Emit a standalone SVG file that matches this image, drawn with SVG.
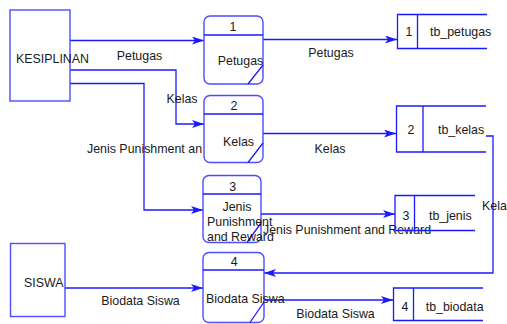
<svg xmlns="http://www.w3.org/2000/svg" width="507" height="324" viewBox="0 0 507 324">
<defs>
<style>
text{font-family:"Liberation Sans",Arial,sans-serif;font-size:12.4px;fill:#1a1a1a}
.c{text-anchor:middle}
.ln{fill:none;stroke:#1a1aff;stroke-width:1.3}
.bx{fill:#fff;stroke:#4d4dff;stroke-width:1.4}
.ds{fill:none;stroke:#1a1aff;stroke-width:1.3}
</style>
<marker id="ah" viewBox="0 0 12 8" refX="12" refY="4" markerWidth="12" markerHeight="8" orient="auto" markerUnits="userSpaceOnUse">
<path d="M0,0 L12,4 L0,8 L3,4 Z" fill="#1a1aff"/>
</marker>
</defs>
<rect width="507" height="324" fill="#fff"/>
<g id="connectors">
<path class="ln" d="M70,40.5 H204" marker-end="url(#ah)"/>
<path class="ln" d="M70,70 H176 V124 H204" marker-end="url(#ah)"/>
<path class="ln" d="M70,83.5 H144 V210 H203" marker-end="url(#ah)"/>
<path class="ln" d="M65,288 H203" marker-end="url(#ah)"/>
<path class="ln" d="M263,39.5 H397" marker-end="url(#ah)"/>
<path class="ln" d="M263,133.5 H396" marker-end="url(#ah)"/>
<path class="ln" d="M261,214 H395" marker-end="url(#ah)"/>
<path class="ln" d="M264,300 H393" marker-end="url(#ah)"/>
<path class="ln" d="M486,136 H493 V273 H264" marker-end="url(#ah)"/>
<text x="139.5" y="60" class="c">Petugas</text>
<text x="182" y="103" class="c">Kelas</text>
<text x="87" y="153">Jenis Punishment an</text>
<text x="140.5" y="305" class="c">Biodata Siswa</text>
<text x="331" y="57" class="c">Petugas</text>
<text x="330" y="153" class="c">Kelas</text>
<text x="263" y="234">Jenis Punishment and Reward</text>
<text x="335.5" y="318" class="c">Biodata Siswa</text>
<text x="482" y="210">Kela</text>
</g>
<g id="kesiplinan">
<rect class="bx" x="10" y="10" width="60" height="91"/>
<text x="16" y="63">KESIPLINAN</text>
</g>
<g id="siswa">
<rect class="bx" x="10.5" y="243.5" width="54.5" height="73"/>
<text x="24" y="287">SISWA</text>
</g>
<g id="p1">
<rect class="bx" x="204" y="16" width="59" height="68" rx="6"/>
<path class="ln" d="M204,35 H263 M248,84 L263,65"/>
<text x="233" y="31" class="c">1</text>
<text x="240.5" y="65" class="c">Petugas</text>
</g>
<g id="p2">
<rect class="bx" x="204" y="95.5" width="59" height="67" rx="6"/>
<path class="ln" d="M204,114 H263 M248,162.5 L263,143"/>
<text x="234" y="109.5" class="c">2</text>
<text x="238.5" y="146" class="c">Kelas</text>
</g>
<g id="p3">
<rect class="bx" x="203" y="175.5" width="58" height="67" rx="6"/>
<path class="ln" d="M203,194 H261 M247,242.5 L261,223"/>
<text x="232.7" y="191" class="c">3</text>
<text x="237" y="210.5" class="c">Jenis</text>
<text x="207" y="225.5">Punishment</text>
<text x="207" y="241">and Reward</text>
</g>
<g id="p4">
<rect class="bx" x="203" y="252.5" width="61" height="70" rx="6"/>
<path class="ln" d="M203,270 H264 M250,322.5 L264,302"/>
<text x="234.3" y="265.5" class="c">4</text>
<text x="206" y="303">Biodata Siswa</text>
</g>
<g id="tb_petugas">
<path class="ds" d="M487,14.5 H397.5 V48.5 H487 M417.5,14.5 V48.5"/>
<text x="409" y="36" class="c">1</text>
<text x="430" y="36">tb_petugas</text>
</g>
<g id="tb_kelas">
<path class="ds" d="M486,106 H396.5 V152 H486 M423,106 V152"/>
<text x="411" y="134" class="c">2</text>
<text x="438" y="134">tb_kelas</text>
</g>
<g id="tb_jenis">
<path class="ds" d="M475,195.5 H395 V230.5 H475 M414.5,195.5 V230.5"/>
<text x="406" y="220" class="c">3</text>
<text x="429" y="220">tb_jenis</text>
</g>
<g id="tb_biodata">
<path class="ds" d="M483,288 H393.5 V320.5 H483 M413.5,288 V320.5"/>
<text x="405" y="311" class="c">4</text>
<text x="425.7" y="311">tb_biodata</text>
</g>
</svg>
